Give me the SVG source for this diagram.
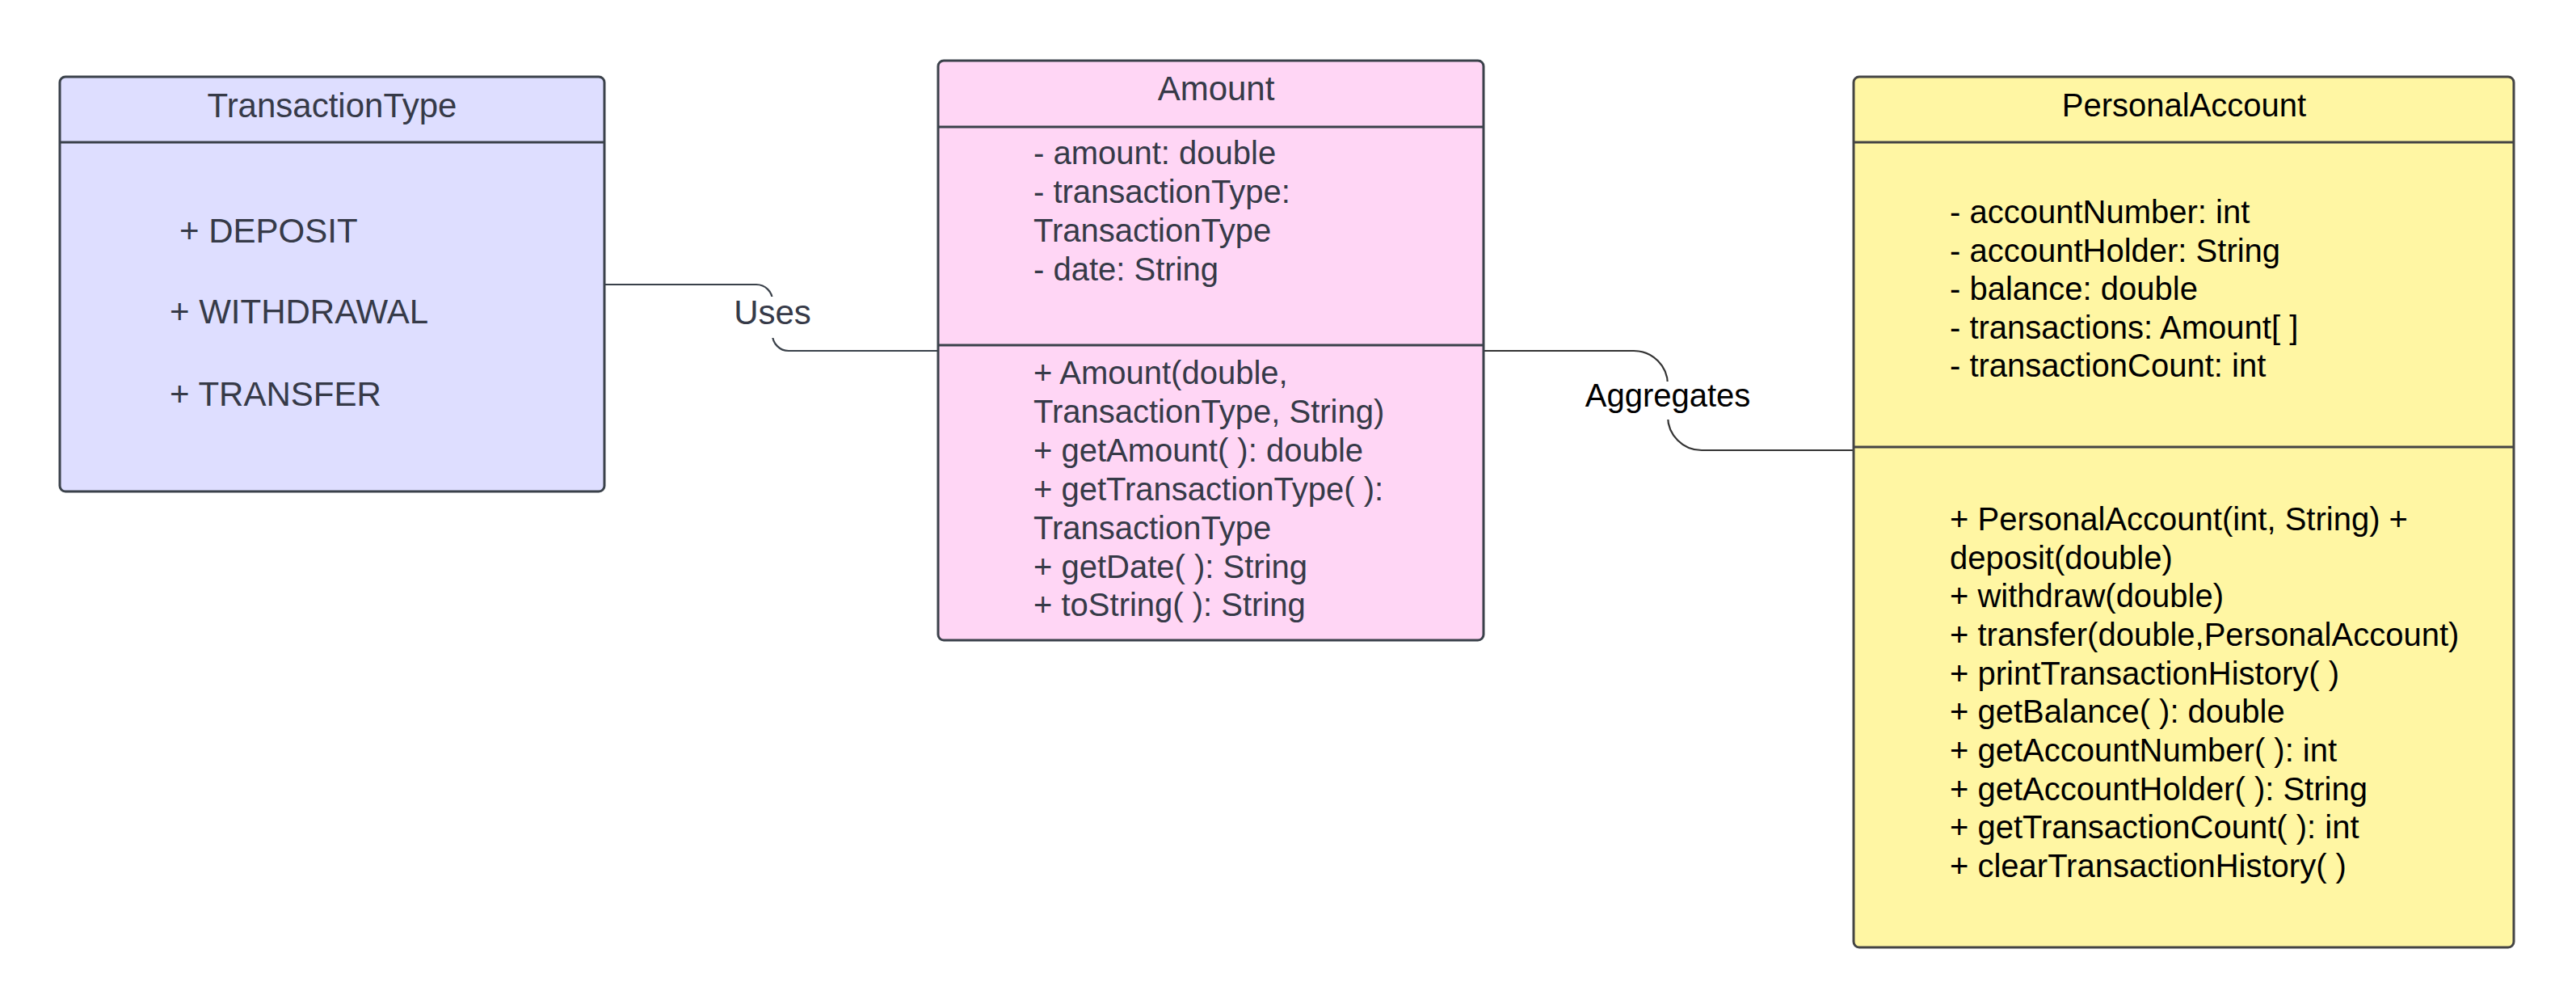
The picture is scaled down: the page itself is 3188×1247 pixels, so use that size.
<svg xmlns="http://www.w3.org/2000/svg" width="3188" height="1247" viewBox="0 0 3188 1247">
<style>
text{font-family:"Liberation Sans",Arial,sans-serif;font-size:40px}
.big{font-size:42px}
.box{stroke-width:3}
.div{stroke-width:3}
.t1{fill:#363a48}
.t2{fill:#000}
.conn{fill:none;stroke:#3a414a;stroke-width:2.2}
.lblbg{fill:#fff}
</style>
<rect width="3188" height="1247" fill="#fff"/>
<g id="connectors">
<path class="conn" d="M748,352 H936 A20,20 0 0 1 956,372 V414 A20,20 0 0 0 976,434 H1161"/>
<path class="conn" style="stroke:#333" d="M1836,434 H2022 A42,42 0 0 1 2064,476 V515 A42,42 0 0 0 2106,557 H2294"/>
<rect class="lblbg" x="906" y="367" width="100" height="51"/>
<text class="t1 big" x="956" y="401" text-anchor="middle">Uses</text>
<rect class="lblbg" x="1956" y="472" width="216" height="47"/>
<text class="t2" x="2064" y="503" text-anchor="middle">Aggregates</text>
</g>
<g id="TransactionType">
<rect class="box" x="74" y="95" width="674" height="513" rx="7" fill="#dedeff" stroke="#3a414a"/>
<line class="div" x1="74" y1="176" x2="748" y2="176" stroke="#3a414a"/>
<text class="t1 big" x="411" y="145" text-anchor="middle">TransactionType</text>
<text class="t1 big" x="222" y="300">+ DEPOSIT</text>
<text class="t1 big" x="210" y="400">+ WITHDRAWAL</text>
<text class="t1 big" x="210" y="502">+ TRANSFER</text>
</g>
<g id="Amount">
<rect class="box" x="1161" y="75" width="675" height="717" rx="7" fill="#ffd6f5" stroke="#3a414a"/>
<line class="div" x1="1161" y1="157" x2="1836" y2="157" stroke="#3a414a"/>
<line class="div" x1="1161" y1="427" x2="1836" y2="427" stroke="#3a414a"/>
<text class="t1 big" x="1505" y="124" text-anchor="middle">Amount</text>
<text class="t1" x="1279" y="203">- amount: double</text>
<text class="t1" x="1279" y="251">- transactionType:</text>
<text class="t1" x="1279" y="299">TransactionType</text>
<text class="t1" x="1279" y="347">- date: String</text>
<text class="t1" x="1279" y="475">+ Amount(double,</text>
<text class="t1" x="1279" y="523">TransactionType, String)</text>
<text class="t1" x="1279" y="571">+ getAmount( ): double</text>
<text class="t1" x="1279" y="619">+ getTransactionType( ):</text>
<text class="t1" x="1279" y="667">TransactionType</text>
<text class="t1" x="1279" y="715">+ getDate( ): String</text>
<text class="t1" x="1279" y="762">+ toString( ): String</text>
</g>
<g id="PersonalAccount">
<rect class="box" x="2294" y="95" width="817" height="1077" rx="7" fill="#fff6a3" stroke="#444"/>
<line class="div" x1="2294" y1="176" x2="3111" y2="176" stroke="#444"/>
<line class="div" x1="2294" y1="553" x2="3111" y2="553" stroke="#444"/>
<text class="t2" x="2703" y="144" text-anchor="middle">PersonalAccount</text>
<text class="t2" x="2413" y="276">- accountNumber: int</text>
<text class="t2" x="2413" y="324">- accountHolder: String</text>
<text class="t2" x="2413" y="371">- balance: double</text>
<text class="t2" x="2413" y="419">- transactions: Amount[ ]</text>
<text class="t2" x="2413" y="466">- transactionCount: int</text>
<text class="t2" x="2413" y="656">+ PersonalAccount(int, String) +</text>
<text class="t2" x="2413" y="704">deposit(double)</text>
<text class="t2" x="2413" y="751">+ withdraw(double)</text>
<text class="t2" x="2413" y="799">+ transfer(double,PersonalAccount)</text>
<text class="t2" x="2413" y="847">+ printTransactionHistory( )</text>
<text class="t2" x="2413" y="894">+ getBalance( ): double</text>
<text class="t2" x="2413" y="942">+ getAccountNumber( ): int</text>
<text class="t2" x="2413" y="990">+ getAccountHolder( ): String</text>
<text class="t2" x="2413" y="1037">+ getTransactionCount( ): int</text>
<text class="t2" x="2413" y="1085">+ clearTransactionHistory( )</text>
</g>
</svg>
